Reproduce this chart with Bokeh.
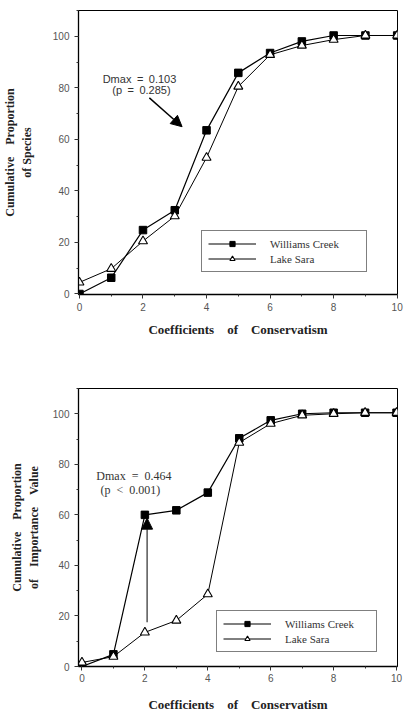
from bokeh.plotting import figure
from bokeh.layouts import column
from bokeh.models import (Range1d, Arrow, NormalHead, Label, Legend, LegendItem,
                          SingleIntervalTicker)
from bokeh.embed import file_html
from bokeh.resources import INLINE

coef = [0, 1, 2, 3, 4, 5, 6, 7, 8, 9, 10]
species_williams = [0, 6.3, 24.8, 32.5, 63.5, 85.8, 93.5, 98.0, 100.3, 100.3, 100.3]
species_lake = [4.5, 9.8, 20.5, 30.2, 52.9, 80.5, 92.8, 96.4, 98.7, 100.3, 100.3]
iv_williams = [0, 4.8, 60.0, 61.8, 68.8, 90.3, 97.4, 100.0, 100.4, 100.4, 100.4]
iv_lake = [1.6, 3.9, 13.5, 18.2, 28.6, 88.6, 96.1, 99.4, 100.0, 100.4, 100.4]

series_names = ["Williams Creek", "Lake Sara"]
x_title = "Coefficients\u2003of\u2003Conservatism"
y_title_top = "Cumulative\u2003Proportion\nof Species"
y_title_bottom = "Cumulative\u2003Proportion\nof\u2003Importance\u2003Value"
stats_top = ["Dmax\u2002=\u20020.103", "(p\u2002=\u20020.285)"]
stats_bottom = ["Dmax\u2002=\u20020.464", "(p\u2002<\u20020.001)"]

SERIF = "Liberation Serif"
SANS = "Liberation Sans"


def make_panel(height, xr, yr, borders, ylab, wc, ls, legend_loc, legend_w_label,
               ylab_standoff, xlab_standoff, xtick_standoff):
    p = figure(width=405, height=height, x_range=Range1d(*xr), y_range=Range1d(*yr),
               output_backend="svg", toolbar_location=None,
               min_border_left=borders[0], min_border_right=borders[1],
               min_border_top=borders[2], min_border_bottom=borders[3])
    p.xgrid.visible = False
    p.ygrid.visible = False
    p.outline_line_color = "black"
    p.outline_line_width = 1
    p.background_fill_color = "white"
    p.border_fill_color = "white"

    p.xaxis.ticker = SingleIntervalTicker(interval=2, num_minor_ticks=2)
    p.yaxis.ticker = SingleIntervalTicker(interval=20, num_minor_ticks=2)
    for ax in (p.xaxis[0], p.yaxis[0]):
        ax.axis_line_color = "black"
        ax.axis_line_width = 1.3
        ax.major_tick_in = 0
        ax.major_tick_out = 4
        ax.minor_tick_in = 0
        ax.minor_tick_out = 2
        ax.major_tick_line_color = "#333333"
        ax.minor_tick_line_color = "#333333"
        ax.major_label_text_font = SANS
        ax.major_label_text_font_size = "10px"
        ax.major_label_text_color = "#555555"
        ax.axis_label_text_font = SERIF
        ax.axis_label_text_font_style = "bold"
        ax.axis_label_text_color = "#222222"
    p.xaxis.axis_label = x_title
    p.xaxis.axis_label_text_font_size = "13px"
    p.xaxis.major_label_standoff = xtick_standoff
    p.xaxis.axis_label_standoff = xlab_standoff
    p.yaxis.axis_label = ylab
    p.yaxis.axis_label_text_font_size = "12px"
    p.yaxis.major_label_standoff = 5
    p.yaxis.axis_label_standoff = ylab_standoff

    l1 = p.line(coef, wc, line_color="black", line_width=1.2)
    m1 = p.scatter(coef, wc, marker="square", size=7.5, fill_color="black",
                   line_color="black")
    l2 = p.line(coef, ls, line_color="black", line_width=1)
    m2 = p.scatter(coef, ls, marker="triangle", size=9, fill_color="white",
                   line_color="black", line_width=1.1)

    legend = Legend(items=[LegendItem(label=series_names[0], renderers=[l1, m1]),
                           LegendItem(label=series_names[1], renderers=[l2, m2])],
                    location=legend_loc, orientation="vertical")
    legend.border_line_color = "black"
    legend.border_line_width = 1
    legend.background_fill_color = "white"
    legend.background_fill_alpha = 1
    legend.label_text_font = SERIF
    legend.label_text_font_size = "11px"
    legend.label_text_color = "#333333"
    legend.glyph_width = 48
    legend.glyph_height = 13
    legend.label_height = 13
    legend.label_standoff = 14
    legend.label_width = legend_w_label
    legend.padding = 6
    legend.spacing = 2
    legend.margin = 0
    p.add_layout(legend, "center")
    return p


top = make_panel(350, (-0.03, 10.01), (-0.2, 110), (73, 8, 10, 56),
                 y_title_top, species_williams, species_lake, (123, 22), 90,
                 16, 8, 4)
top.add_layout(Label(x=1.89, y=83.4, text=stats_top[0], text_font=SANS,
                     text_font_size="11px", text_align="center",
                     text_baseline="middle", text_color="#333333"))
top.add_layout(Label(x=1.95, y=79.1, text=stats_top[1], text_font=SANS,
                     text_font_size="11px", text_align="center",
                     text_baseline="middle", text_color="#333333"))
top.add_layout(Arrow(x_start=2.2, y_start=76.1, x_end=3.23, y_end=64.9,
                     line_width=1.4, line_color="black",
                     end=NormalHead(size=11, fill_color="black", line_color="black")))

bottom = make_panel(364, (-0.11, 10.03), (0, 110), (74, 5, 38, 44),
                    y_title_bottom, iv_williams, iv_lake, (138, 14), 85,
                    9, 12, 3)
bottom.add_layout(Label(x=1.65, y=75.2, text=stats_bottom[0], text_font=SERIF,
                        text_font_size="12px", text_align="center",
                        text_baseline="middle", text_color="#333333"))
bottom.add_layout(Label(x=1.54, y=69.7, text=stats_bottom[1], text_font=SERIF,
                        text_font_size="12px", text_align="center",
                        text_baseline="middle", text_color="#333333"))
bottom.add_layout(Arrow(x_start=2.07, y_start=17.5, x_end=2.07, y_end=58.7,
                        line_width=1, line_color="black",
                        end=NormalHead(size=11, fill_color="black", line_color="black")))

layout = column(top, bottom, spacing=0)
open("out.html", "w").write(file_html(layout, INLINE))
